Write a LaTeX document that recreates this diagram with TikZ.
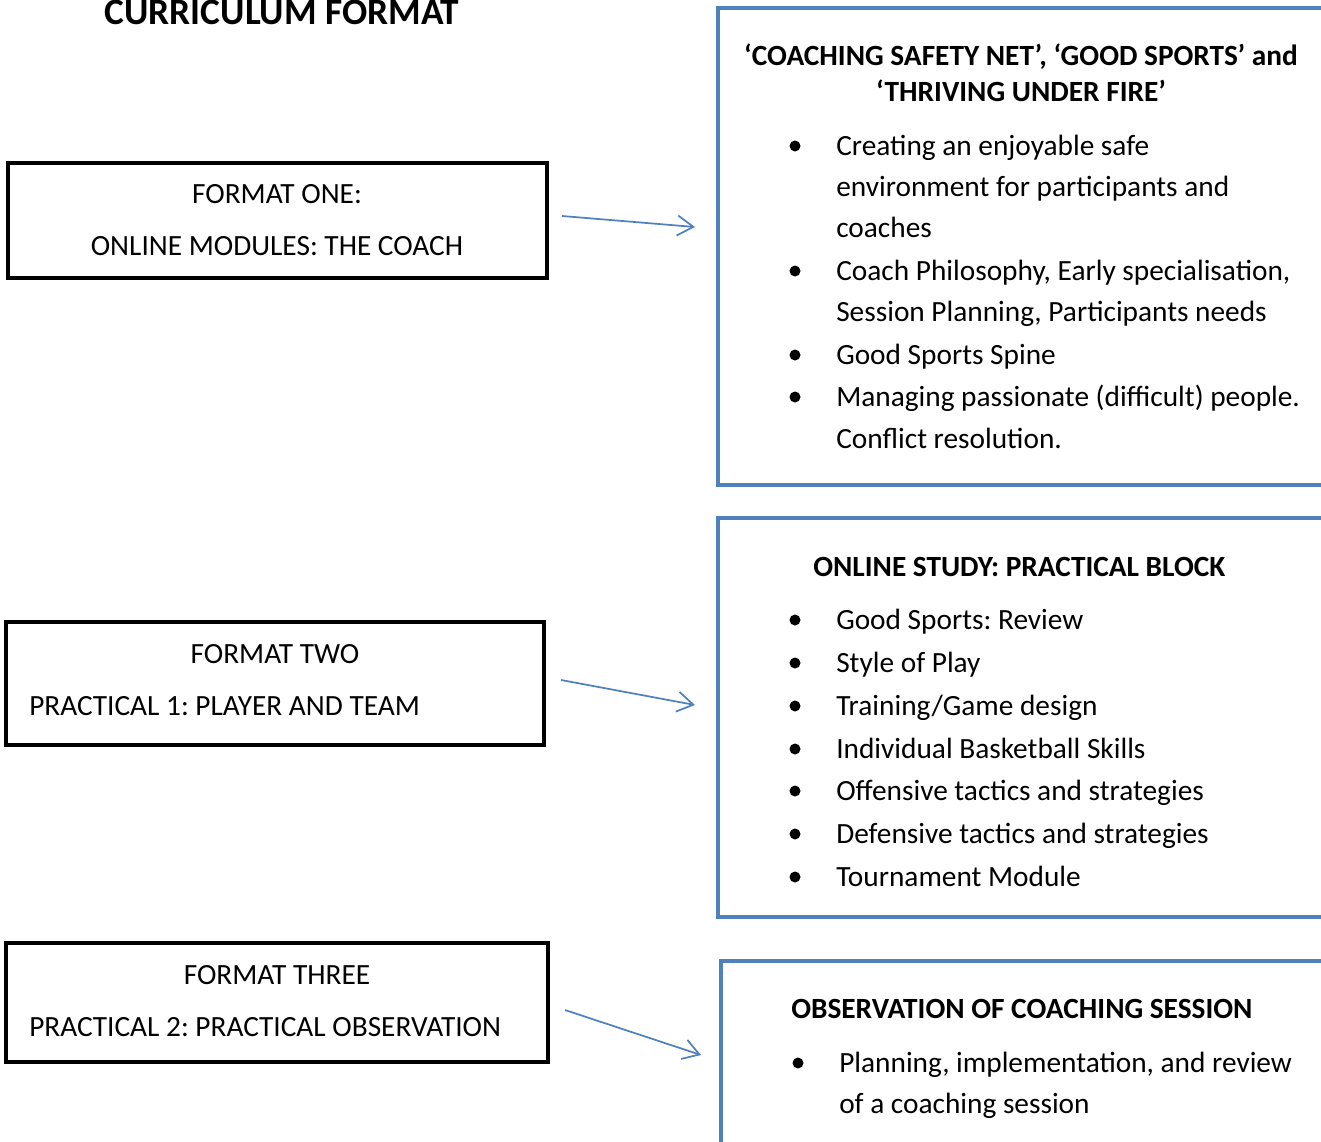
\documentclass[tikz,border=0pt]{standalone}
\usepackage{fontspec}
\setmainfont{Carlito}
\usepackage{xcolor}
\usetikzlibrary{arrows.meta}
\definecolor{boxblue}{HTML}{4F81BD}
\tikzstyle{fmtbox} = [draw=black, line width=3pt]
\tikzstyle{topicbox} = [draw=boxblue, line width=3pt]
\tikzstyle{flow} = [-{Straight Barb[length=12pt,width=15pt]}, draw=boxblue, line width=1.3pt]
\tikzstyle{txt} = [inner sep=0pt, font=\fontsize{22}{30}\selectfont]
\tikzstyle{hdr} = [inner sep=0pt, font=\fontsize{22}{30}\selectfont\bfseries]
\frenchspacing

\begin{document}
\begin{tikzpicture}[x=0.75pt,y=-0.75pt]

\useasboundingbox (0,0) rectangle (1321,1142);
\clip (0,0) rectangle (1321,1142);

% Titulo
\node[inner sep=0pt, anchor=base, font=\fontsize{28}{34}\selectfont\bfseries] (title) at (282,24) {CURRICULUM FORMAT};

% Formatos
\draw[fmtbox] (8,163) rectangle (547,278);
\node[txt, anchor=base] (one) at (277,203) {FORMAT ONE:};
\node[txt, anchor=base] (oneb) at (277,255) {ONLINE MODULES: THE COACH};

\draw[fmtbox] (6,622) rectangle (544,745);
\node[txt, anchor=base] (two) at (275,663) {FORMAT TWO};
\node[txt, anchor=base west] (twob) at (29,715) {PRACTICAL 1: PLAYER AND TEAM};

\draw[fmtbox] (6,943) rectangle (548,1062);
\node[txt, anchor=base] (three) at (277,984) {FORMAT THREE};
\node[txt, anchor=base west] (threeb) at (29,1036) {PRACTICAL 2: PRACTICAL OBSERVATION};

% Flechas
\coordinate (a1) at (562,216);
\coordinate (b1) at (695,227);
\coordinate (a2) at (561,680);
\coordinate (b2) at (695,705);
\coordinate (a3) at (565,1010);
\coordinate (b3) at (701,1055);
\draw[flow] (a1) -- (b1);
\draw[flow] (a2) -- (b2);
\draw[flow] (a3) -- (b3);

% Contenidos
\draw[topicbox] (718,8) rectangle (1340,485);
\node[hdr, anchor=base] (h1) at (1021,65) {‘COACHING SAFETY NET’, ‘GOOD SPORTS’ and};
\node[hdr, anchor=base] (h1b) at (1021,101) {‘THRIVING UNDER FIRE’};
\foreach \y/\t in {155/Creating an enjoyable safe, 196/environment for participants and, 237/coaches,
    280/{Coach Philosophy, Early specialisation,}, 321/{Session Planning, Participants needs},
    364/Good Sports Spine, 406/Managing passionate (difficult) people., 448/Conflict resolution.}
  \node[txt, anchor=base west] (l\y) at (836,\y) {\t};
\foreach \y in {155,280,364,406}
  \fill (795,\y-9) circle (5.5);

\draw[topicbox] (718,518) rectangle (1340,917);
\node[hdr, anchor=base west] (h2) at (813,576) {ONLINE STUDY: PRACTICAL BLOCK};
\foreach \y/\t in {629/Good Sports: Review, 672/Style of Play, 715/{Training/Game design},
    758/Individual Basketball Skills, 800/Offensive tactics and strategies,
    843/Defensive tactics and strategies, 886/Tournament Module} {
  \node[txt, anchor=base west] (m\y) at (836,\y) {\t};
  \fill (795,\y-9) circle (5.5);
}

\draw[topicbox] (721,961) rectangle (1340,1160);
\node[hdr, anchor=base west] (h3) at (791,1018) {OBSERVATION OF COACHING SESSION};
\node[txt, anchor=base west] (n1) at (839,1072) {Planning, implementation, and review};
\node[txt, anchor=base west] (n2) at (839,1113) {of a coaching session};
\fill (798,1063) circle (5.5);

\end{tikzpicture}
\end{document}
